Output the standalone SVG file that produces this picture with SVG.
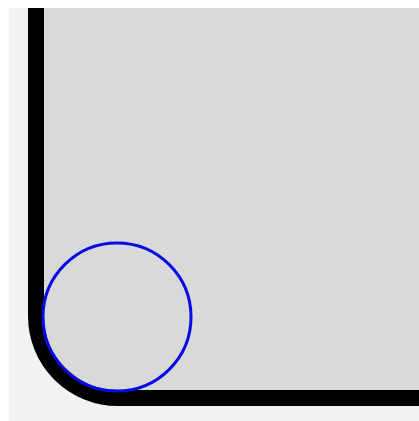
<svg xmlns="http://www.w3.org/2000/svg" width="419" height="421" viewBox="0 0 419 421">
  <defs>
    <clipPath id="panel"><rect x="9" y="8" width="410" height="413"/></clipPath>
  </defs>
  <rect x="0" y="0" width="419" height="421" fill="#ffffff"/>
  <rect x="9" y="8" width="410" height="413" fill="#f2f2f2"/>
  <g clip-path="url(#panel)">
    <g id="box">
      <rect x="36" y="-100" width="500" height="498" rx="82" ry="82" fill="#d9d9d9" stroke="#000000" stroke-width="16"/>
    </g>
    <g id="circle">
      <circle cx="117" cy="317" r="74" fill="none" stroke="#0a0ae6" stroke-width="3"/>
    </g>
  </g>
</svg>
